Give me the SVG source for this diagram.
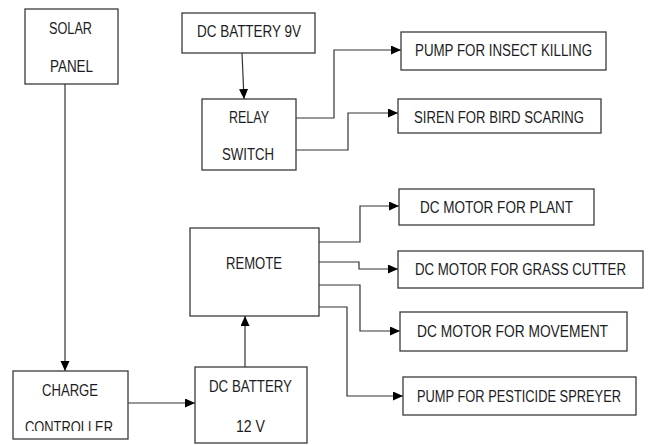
<svg xmlns="http://www.w3.org/2000/svg" width="651" height="445" viewBox="0 0 651 445">
<defs>
<style>
.box{fill:#fff;stroke:#3a3a3a;stroke-width:1.3}
.t{font-family:"Liberation Sans Narrow","Liberation Sans",Arial,sans-serif;font-size:16px;fill:#1c1c24}
.c{fill:none;stroke:#333;stroke-width:1.2}
</style>
<marker id="ah" markerUnits="userSpaceOnUse" markerWidth="11" markerHeight="10" refX="10" refY="4.5" orient="auto">
<path d="M0,0 L10,4.5 L0,9 z" fill="#000"/>
</marker>
<clipPath id="ccclip"><rect x="13" y="371" width="115" height="60"/></clipPath>
</defs>
<rect width="651" height="445" fill="#fff"/>
<g id="connectors">
<path class="c" d="M65,84 V371" marker-end="url(#ah)"/>
<path class="c" d="M242,53 L244,99" marker-end="url(#ah)"/>
<path class="c" d="M296,118 H334 V50 H401" marker-end="url(#ah)"/>
<path class="c" d="M296,150 H348 V113 H398" marker-end="url(#ah)"/>
<path class="c" d="M128,403 H195" marker-end="url(#ah)"/>
<path class="c" d="M245,367 V316" marker-end="url(#ah)"/>
<path class="c" d="M319,242 H360 V206 H399" marker-end="url(#ah)"/>
<path class="c" d="M319,262 H359 V269 H398" marker-end="url(#ah)"/>
<path class="c" d="M319,285 H360 V331 H400" marker-end="url(#ah)"/>
<path class="c" d="M319,307 H347 V396 H403" marker-end="url(#ah)"/>
</g>
<g id="solar">
<rect class="box" x="25" y="9" width="93" height="75"/>
<text class="t" x="49" y="34" textLength="43" lengthAdjust="spacingAndGlyphs">SOLAR</text>
<text class="t" x="50" y="72" textLength="43" lengthAdjust="spacingAndGlyphs">PANEL</text>
</g>
<g id="battery9v">
<rect class="box" x="182" y="13" width="133" height="40"/>
<text class="t" x="197" y="37" textLength="104" lengthAdjust="spacingAndGlyphs">DC BATTERY 9V</text>
</g>
<g id="relay">
<rect class="box" x="202" y="99" width="94" height="71"/>
<text class="t" x="229" y="123" textLength="40" lengthAdjust="spacingAndGlyphs">RELAY</text>
<text class="t" x="222" y="160" textLength="52" lengthAdjust="spacingAndGlyphs">SWITCH</text>
</g>
<g id="pump-insect">
<rect class="box" x="401" y="32" width="205" height="38"/>
<text class="t" x="415" y="56" textLength="177" lengthAdjust="spacingAndGlyphs">PUMP FOR INSECT KILLING</text>
</g>
<g id="siren">
<rect class="box" x="398" y="99" width="203" height="34"/>
<text class="t" x="414" y="123" textLength="170" lengthAdjust="spacingAndGlyphs">SIREN FOR BIRD SCARING</text>
</g>
<g id="remote">
<rect class="box" x="190" y="228" width="129" height="88"/>
<text class="t" x="226" y="269" textLength="56" lengthAdjust="spacingAndGlyphs">REMOTE</text>
</g>
<g id="motor-plant">
<rect class="box" x="399" y="189" width="195" height="36"/>
<text class="t" x="420" y="213" textLength="153" lengthAdjust="spacingAndGlyphs">DC MOTOR FOR PLANT</text>
</g>
<g id="motor-grass">
<rect class="box" x="398" y="251" width="245" height="37"/>
<text class="t" x="415" y="275" textLength="211" lengthAdjust="spacingAndGlyphs">DC MOTOR FOR GRASS CUTTER</text>
</g>
<g id="motor-movement">
<rect class="box" x="400" y="312" width="227" height="39"/>
<text class="t" x="417" y="337" textLength="191" lengthAdjust="spacingAndGlyphs">DC MOTOR FOR MOVEMENT</text>
</g>
<g id="pump-pesticide">
<rect class="box" x="403" y="377" width="233" height="38"/>
<text class="t" x="417" y="402" textLength="204" lengthAdjust="spacingAndGlyphs">PUMP FOR PESTICIDE SPREYER</text>
</g>
<g id="charge-controller">
<rect class="box" x="13" y="371" width="115" height="68"/>
<text class="t" x="42" y="396" textLength="56" lengthAdjust="spacingAndGlyphs">CHARGE</text>
<text class="t" x="25" y="433" textLength="88" lengthAdjust="spacingAndGlyphs" clip-path="url(#ccclip)">CONTROLLER</text>
</g>
<g id="battery12v">
<rect class="box" x="195" y="367" width="112" height="76"/>
<text class="t" x="209" y="392" textLength="83" lengthAdjust="spacingAndGlyphs">DC BATTERY</text>
<text class="t" x="236" y="432" textLength="29" lengthAdjust="spacingAndGlyphs">12 V</text>
</g>
</svg>
